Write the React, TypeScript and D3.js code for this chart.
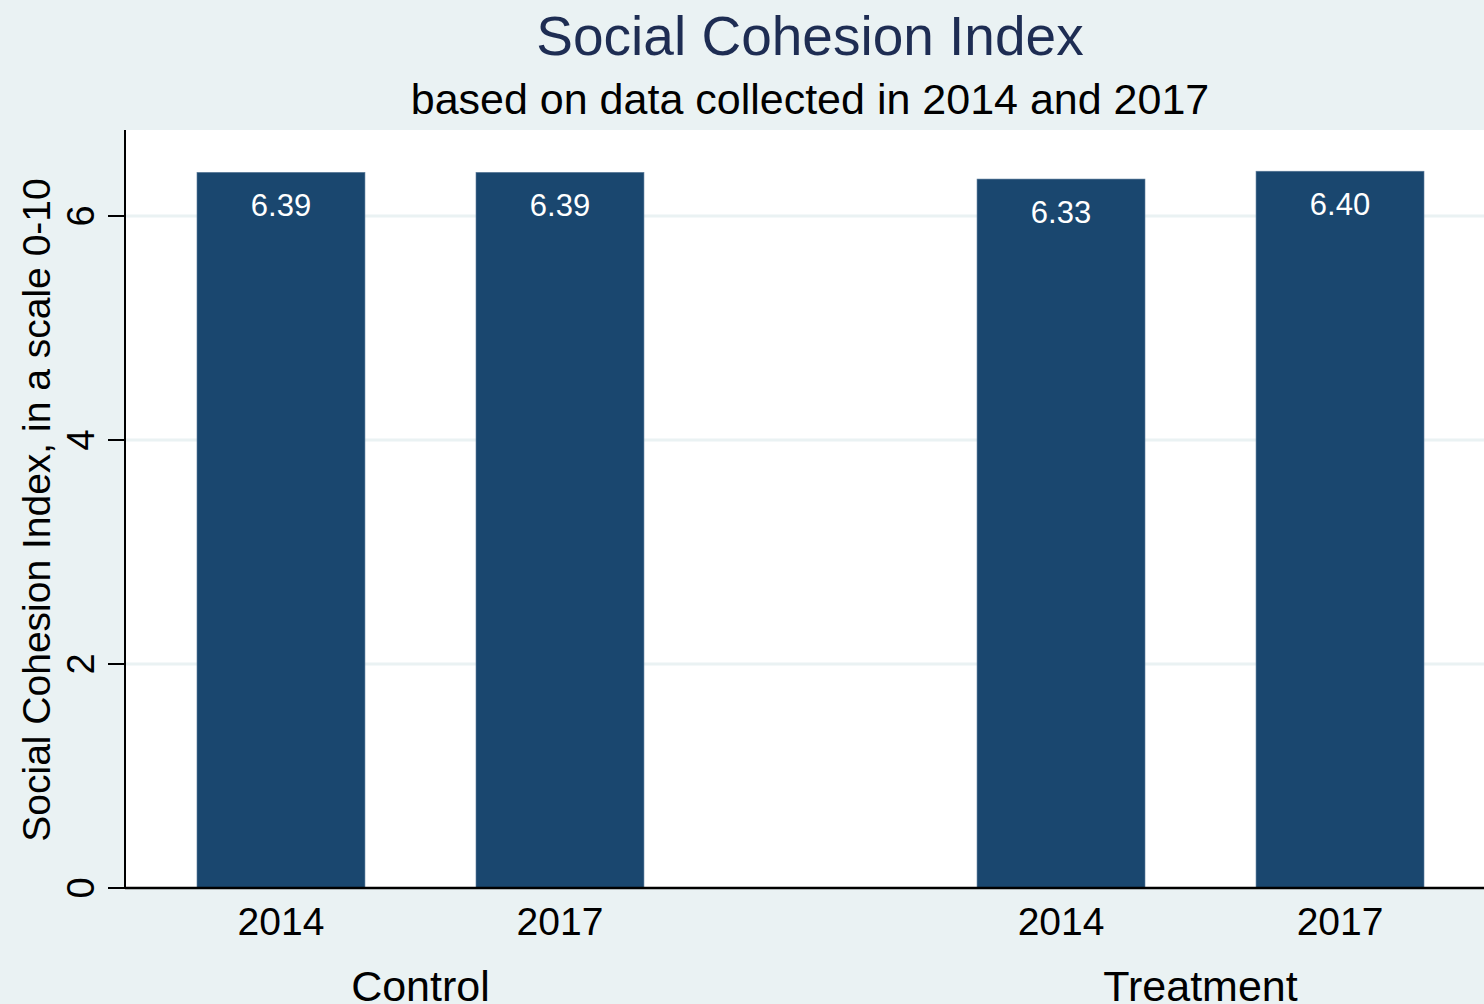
import React from "react";
import * as d3 from "d3";

const groups = ["Control", "Treatment"];
const years = ["2014", "2017"];
const controlValues = [6.39, 6.39];
const treatmentValues = [6.33, 6.4];
const yTicks = [0, 2, 4, 6];
const titleText = "Social Cohesion Index";
const subtitleText = "based on data collected in 2014 and 2017";
const yAxisTitle = "Social Cohesion Index, in a scale 0-10";

const W = 1484;
const H = 1004;
const BG = "#eaf2f3";
const BAR = "#1a476f";
const FONT = "'Liberation Sans', Arial, Helvetica, sans-serif";

export default function App() {
  const left = 125;
  const top = 130;
  const bottom = 888;
  const y = d3.scaleLinear().domain([0, 6.768]).range([bottom, top]);
  const x0 = d3
    .scaleBand<string>()
    .domain(groups)
    .range([left, 1496])
    .paddingInner(0.427)
    .paddingOuter(0.0923);
  const x1 = d3
    .scaleBand<string>()
    .domain(years)
    .range([0, x0.bandwidth()])
    .paddingInner(0.398)
    .paddingOuter(0);

  const data = [
    { group: groups[0], values: controlValues },
    { group: groups[1], values: treatmentValues },
  ];

  return (
    <svg
      width={W}
      height={H}
      style={{ position: "absolute", left: 0, top: 0, display: "block" }}
      fontFamily={FONT}
    >
      <rect x={0} y={0} width={W} height={H} fill={BG} />
      <rect x={left} y={top} width={W - left} height={bottom - top} fill="#ffffff" />
      {yTicks
        .filter((t) => t !== 0)
        .map((t) => (
          <line key={"g" + t} x1={left} x2={W} y1={y(t)} y2={y(t)} stroke={BG} strokeWidth={3} />
        ))}
      {data.map((d) =>
        d.values.map((v, i) => {
          const bx = (x0(d.group) as number) + (x1(years[i]) as number);
          const bw = x1.bandwidth();
          return (
            <g key={d.group + i}>
              <rect
                x={bx}
                y={y(v)}
                width={bw}
                height={bottom - y(v)}
                fill={BAR}
                stroke="#5d7c9b"
                strokeWidth={0.6}
              />
              <text
                x={bx + bw / 2}
                y={y(v) + 44}
                textAnchor="middle"
                fill="#ffffff"
                fontSize={31}
              >
                {v.toFixed(2)}
              </text>
              <text x={bx + bw / 2} y={935} textAnchor="middle" fill="#000" fontSize={39}>
                {years[i]}
              </text>
            </g>
          );
        })
      )}
      {groups.map((g) => (
        <text
          key={g}
          x={(x0(g) as number) + x0.bandwidth() / 2}
          y={1001}
          textAnchor="middle"
          fill="#000"
          fontSize={43}
        >
          {g}
        </text>
      ))}
      <line x1={left} x2={left} y1={top} y2={bottom} stroke="#000" strokeWidth={2} />
      <line x1={left} x2={W} y1={bottom} y2={bottom} stroke="#000" strokeWidth={2.5} />
      {yTicks.map((t) => (
        <g key={"t" + t}>
          <line x1={108} x2={left} y1={y(t)} y2={y(t)} stroke="#000" strokeWidth={2} />
          <text
            transform={`translate(94,${y(t)}) rotate(-90)`}
            textAnchor="middle"
            fill="#000"
            fontSize={38}
          >
            {t}
          </text>
        </g>
      ))}
      <text
        transform={`translate(50,510) rotate(-90)`}
        textAnchor="middle"
        fill="#000"
        fontSize={39}
      >
        {yAxisTitle}
      </text>
      <text x={810} y={55} textAnchor="middle" fill="#1e2d53" fontSize={55}>
        {titleText}
      </text>
      <text x={810} y={114} textAnchor="middle" fill="#000" fontSize={43}>
        {subtitleText}
      </text>
    </svg>
  );
}
